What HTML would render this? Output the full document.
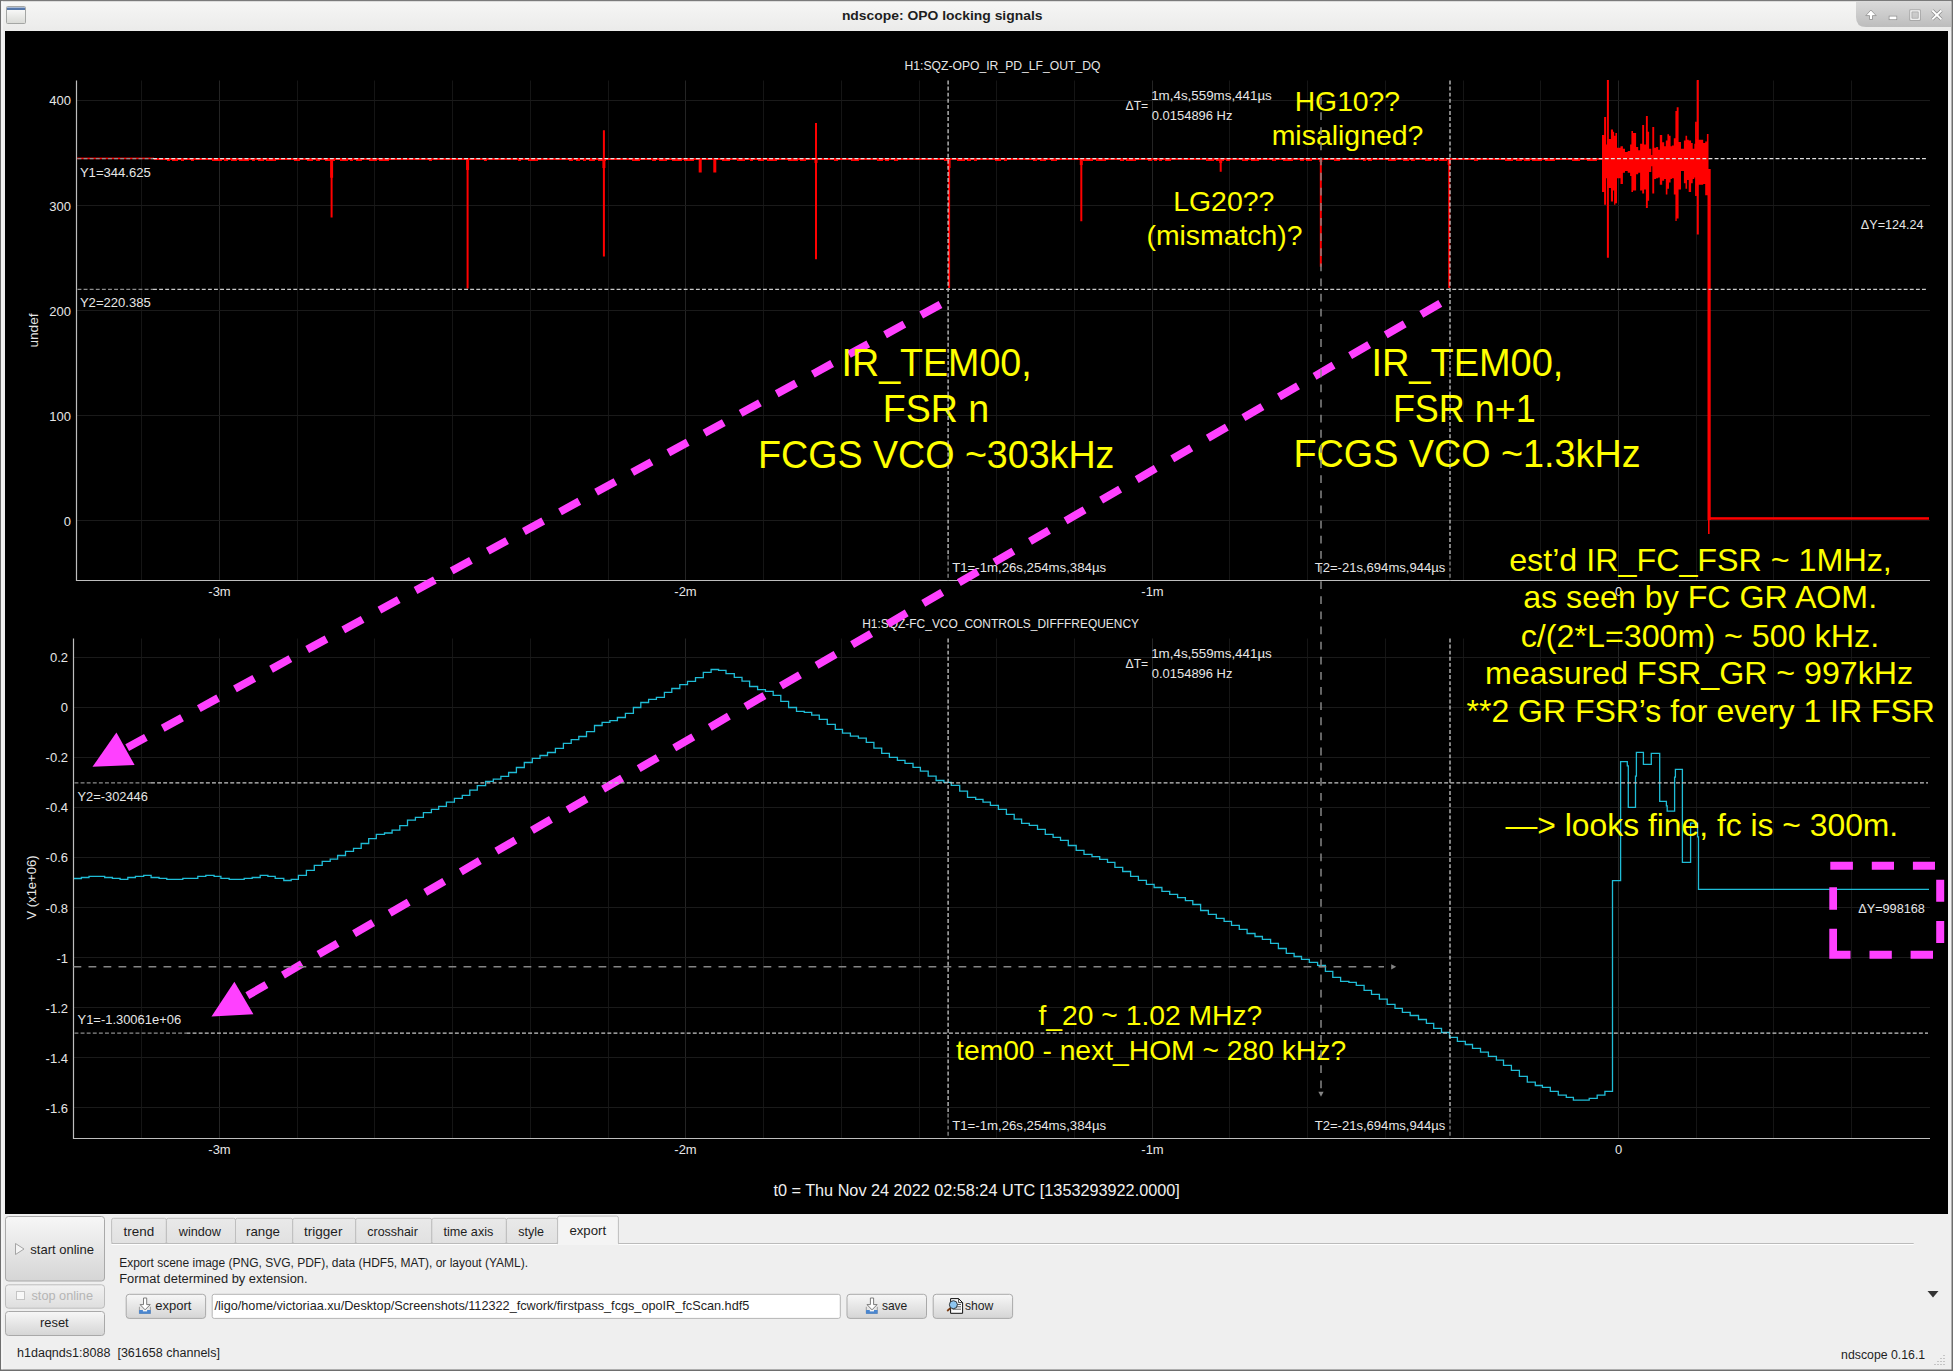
<!DOCTYPE html>
<html><head><meta charset="utf-8"><title>ndscope: OPO locking signals</title>
<style>html,body{margin:0;padding:0;background:#EFEFEF;overflow:hidden;width:1953px;height:1371px;font-family:"Liberation Sans",sans-serif}svg{display:block}</style>
</head><body>
<svg width="1953" height="1371" viewBox="0 0 1953 1371" font-family="&quot;Liberation Sans&quot;, sans-serif"><rect x="0" y="0" width="1953" height="1371" fill="#EFEFEF"/>
<defs><linearGradient id="tb" x1="0" y1="0" x2="0" y2="1"><stop offset="0" stop-color="#F6F6F5"/><stop offset="1" stop-color="#EBEBEA"/></linearGradient><linearGradient id="wb" x1="0" y1="0" x2="0" y2="1"><stop offset="0" stop-color="#DADADA"/><stop offset="1" stop-color="#BDBDBD"/></linearGradient><linearGradient id="btn" x1="0" y1="0" x2="0" y2="1"><stop offset="0" stop-color="#F7F7F7"/><stop offset="1" stop-color="#D5D5D5"/></linearGradient><linearGradient id="btnd" x1="0" y1="0" x2="0" y2="1"><stop offset="0" stop-color="#F2F2F2"/><stop offset="1" stop-color="#DEDEDE"/></linearGradient><linearGradient id="tab" x1="0" y1="0" x2="0" y2="1"><stop offset="0" stop-color="#E9E9E9"/><stop offset="1" stop-color="#E1E1E1"/></linearGradient></defs>
<rect x="0" y="0" width="1953" height="31" fill="url(#tb)"/>
<rect x="0" y="0" width="1953" height="1.2" fill="#7A7A7A"/>
<rect x="0" y="0" width="1.2" height="1371" fill="#6E6E6E"/>
<rect x="1951.5" y="0" width="1.5" height="1371" fill="#6E6E6E"/>
<rect x="0" y="1369.5" width="1953" height="1.5" fill="#6E6E6E"/>
<rect x="1.2" y="1.2" width="1.5" height="1368" fill="#FAFAFA"/>
<linearGradient id="wi" x1="0" y1="0" x2="0" y2="1"><stop offset="0" stop-color="#FFFFFF"/><stop offset="1" stop-color="#D9DAD6"/></linearGradient>
<rect x="6.5" y="6.5" width="19" height="17" rx="1" fill="url(#wi)" stroke="#A4A6A4" stroke-width="1"/>
<rect x="7" y="7.5" width="18" height="2.5" fill="#5577AA"/>
<text x="841.9" y="20.3" font-size="13" fill="#1E1E1E" textLength="200.6" lengthAdjust="spacingAndGlyphs" font-weight="bold"  xml:space="preserve">ndscope: OPO locking signals</text>
<path d="M1856 1 H1949 Q1951 1 1951 4 V27 H1866 Q1856 27 1856 17 Z" fill="url(#wb)"/>
<path d="M1870.9 10 L1876.2 15.6 H1872.5 V19.5 H1869.5 V15.6 H1865.8 Z" fill="#FFFFFF" stroke="#8E8E8E" stroke-width="0.8" stroke-linejoin="round"/>
<rect x="1889.1" y="16.1" width="7.7" height="3.6" fill="#FFFFFF" stroke="#8E8E8E" stroke-width="0.7"/>
<rect x="1910.9" y="10.9" width="8.3" height="8.3" fill="none" stroke="#8E8E8E" stroke-width="2.6"/>
<rect x="1910.9" y="10.9" width="8.3" height="8.3" fill="none" stroke="#FFFFFF" stroke-width="1.3"/>
<path d="M1932.3 10.5 L1941.4 19.4 M1941.4 10.5 L1932.3 19.4" stroke="#8E8E8E" stroke-width="3.4" stroke-linecap="butt"/>
<path d="M1932.3 10.5 L1941.4 19.4 M1941.4 10.5 L1932.3 19.4" stroke="#FFFFFF" stroke-width="1.9" stroke-linecap="butt"/>
<rect x="5" y="31" width="1943" height="1183" fill="#000000"/>
<path d="M1851.5 80.5V580.5M1773.5 80.5V580.5M1696.5 80.5V580.5M1540.5 80.5V580.5M1463.5 80.5V580.5M1385.5 80.5V580.5M1307.5 80.5V580.5M1229.5 80.5V580.5M1074.5 80.5V580.5M996.5 80.5V580.5M919.5 80.5V580.5M841.5 80.5V580.5M763.5 80.5V580.5M608.5 80.5V580.5M530.5 80.5V580.5M452.5 80.5V580.5M374.5 80.5V580.5M297.5 80.5V580.5M141.5 80.5V580.5" stroke="#151515" stroke-width="1" fill="none"/>
<path d="M1618.5 80.5V580.5M1152.5 80.5V580.5M685.5 80.5V580.5M219.5 80.5V580.5" stroke="#242424" stroke-width="1" fill="none"/>
<path d="M76.5 100.5H1930M76.5 205.5H1930M76.5 310.5H1930M76.5 415.5H1930M76.5 520.5H1930" stroke="#1A1A1A" stroke-width="1" fill="none"/>
<path d="M1851.5 638.5V1138.5M1773.5 638.5V1138.5M1696.5 638.5V1138.5M1540.5 638.5V1138.5M1463.5 638.5V1138.5M1385.5 638.5V1138.5M1307.5 638.5V1138.5M1229.5 638.5V1138.5M1074.5 638.5V1138.5M996.5 638.5V1138.5M919.5 638.5V1138.5M841.5 638.5V1138.5M763.5 638.5V1138.5M608.5 638.5V1138.5M530.5 638.5V1138.5M452.5 638.5V1138.5M374.5 638.5V1138.5M297.5 638.5V1138.5M141.5 638.5V1138.5" stroke="#151515" stroke-width="1" fill="none"/>
<path d="M1618.5 638.5V1138.5M1152.5 638.5V1138.5M685.5 638.5V1138.5M219.5 638.5V1138.5" stroke="#242424" stroke-width="1" fill="none"/>
<path d="M73.5 657.5H1930M73.5 707.5H1930M73.5 757.5H1930M73.5 807.5H1930M73.5 857.5H1930M73.5 907.5H1930M73.5 957.5H1930M73.5 1007.5H1930M73.5 1057.5H1930M73.5 1107.5H1930" stroke="#1A1A1A" stroke-width="1" fill="none"/>
<rect x="77" y="157.6" width="77" height="1.6" fill="#FF0000"/>
<rect x="154" y="158" width="1448" height="2" fill="#FF0000"/>
<path d="M167 160h3v1h-3zM172 160h6v1h-6zM181 160h3v1h-3zM191 160h3v1h-3zM212 160h10v1h-10zM224 160h4v1h-4zM231 160h6v1h-6zM239 160h10v1h-10zM252 160h3v1h-3zM258 160h6v1h-6zM266 160h10v1h-10zM294 160h6v1h-6zM307 160h6v1h-6zM316 160h4v1h-4zM325 160h10v1h-10zM340 160h8v1h-8zM350 160h3v1h-3zM356 160h6v1h-6zM369 160h8v1h-8zM379 160h10v1h-10zM429 160h3v1h-3zM484 160h3v1h-3zM518 160h3v1h-3zM528 160h10v1h-10zM569 160h4v1h-4zM576 160h4v1h-4zM583 160h3v1h-3zM589 160h6v1h-6zM598 160h8v1h-8zM632 160h8v1h-8zM652 160h4v1h-4zM659 160h8v1h-8zM672 160h10v1h-10zM684 160h10v1h-10zM722 160h8v1h-8zM737 160h8v1h-8zM750 160h3v1h-3zM758 160h6v1h-6zM767 160h10v1h-10zM788 160h10v1h-10zM800 160h6v1h-6zM834 160h4v1h-4zM851 160h8v1h-8zM877 160h6v1h-6zM885 160h4v1h-4zM894 160h4v1h-4zM944 160h6v1h-6zM957 160h8v1h-8zM967 160h4v1h-4zM974 160h3v1h-3zM995 160h6v1h-6zM1004 160h3v1h-3zM1033 160h4v1h-4zM1040 160h6v1h-6zM1051 160h6v1h-6zM1083 160h10v1h-10zM1096 160h10v1h-10zM1120 160h4v1h-4zM1126 160h10v1h-10zM1148 160h4v1h-4zM1154 160h3v1h-3zM1159 160h3v1h-3zM1165 160h6v1h-6zM1206 160h8v1h-8zM1216 160h8v1h-8zM1226 160h4v1h-4zM1242 160h6v1h-6zM1251 160h8v1h-8zM1272 160h4v1h-4zM1283 160h10v1h-10zM1300 160h4v1h-4zM1306 160h6v1h-6zM1334 160h6v1h-6zM1363 160h3v1h-3zM1368 160h4v1h-4zM1388 160h8v1h-8zM1403 160h6v1h-6zM1411 160h4v1h-4zM1425 160h6v1h-6zM1434 160h3v1h-3zM1439 160h8v1h-8zM1474 160h4v1h-4zM1505 160h8v1h-8zM1516 160h6v1h-6zM1524 160h6v1h-6zM1532 160h10v1h-10zM1545 160h10v1h-10zM1572 160h8v1h-8zM1587 160h10v1h-10z" fill="#FF0000"/>
<path d="M330.6 158H332.6V217.5H330.6ZM330.1 158H333.1V177.8H330.1ZM466.6 158H468.6V288.4H466.6ZM466.1 158H469.1V170H466.1ZM602.9 130.3H604.9V256.5H602.9ZM602.4 158H605.4V168H602.4ZM699.2 158H701.2V172.6H699.2ZM698.7 158H701.7V172.6H698.7ZM713.8 158H715.8V172.6H713.8ZM713.3 158H716.3V172.6H713.3ZM815 123H817V259.2H815ZM814.5 158H817.5V163H814.5ZM948.1 158H950.1V288H948.1ZM947.6 158H950.6V168H947.6ZM1080.3 158H1082.3V221.2H1080.3ZM1079.8 158H1082.8V165H1079.8ZM1219.7 158H1221.7V171.7H1219.7ZM1219.2 158H1222.2V163H1219.2ZM1319.8 158H1321.8V266.7H1319.8ZM1319.3 158H1322.3V162H1319.3ZM1448.2 158H1450.2V287.9H1448.2ZM1447.7 158H1450.7V165H1447.7Z" fill="#FF0000"/>
<path d="M1602 135H1604.1V192H1602ZM1604.1 117H1606.1V204.8H1604.1ZM1606.1 144.6H1606.9V178.3H1606.1ZM1606.9 80H1608.9V257.8H1606.9ZM1606.9 139H1608.9V185.6H1606.9ZM1608.9 139H1610.9V188H1608.9ZM1610.9 129.4H1613V201.6H1610.9ZM1613 131.8H1614.1V190.4H1613ZM1614.1 135.8H1615.4V204.8H1614.1ZM1615.4 133.1H1617V203.2H1615.4ZM1617 147.8H1620.5V178.3H1617ZM1620.5 146.2H1622.9V184H1620.5ZM1622.9 148.7H1625V172.7H1622.9ZM1625 151.9H1627.7V171.1H1625ZM1627.7 151.1H1630.1V172.7H1627.7ZM1630.1 144.6H1631.4V175.9H1630.1ZM1631.4 131H1633V192H1631.4ZM1633 133.1H1636.1V190.4H1633ZM1636.1 147H1638.2V174.3H1636.1ZM1638.2 150.3H1640.1V172.7H1638.2ZM1640.1 143.8H1642.2V190.4H1640.1ZM1642.2 125.1H1644.1V193.6H1642.2ZM1644.1 144.6H1645.9V189.6H1644.1ZM1645.9 116.1H1647.8V208H1645.9ZM1647.8 131.8H1649.1V200.8H1647.8ZM1649.1 148.7H1651.3V171.9H1649.1ZM1651.3 155.1H1652.3V166.3H1651.3ZM1652.3 127H1654.2V193.6H1652.3ZM1654.2 147.8H1656.1V179.1H1654.2ZM1656.1 147H1658.2V178.3H1656.1ZM1658.2 149.8H1659.8V177.5H1658.2ZM1659.8 135H1662.2V184.8H1659.8ZM1662.2 142.2H1664.2V180.8H1662.2ZM1664.2 146.2H1665.8V179.1H1664.2ZM1665.8 140.6H1667.4V194.4H1665.8ZM1667.4 134.2H1669V188.8H1667.4ZM1669 135.8H1670.6V182.4H1669ZM1670.6 146.2H1671.9V179.1H1670.6ZM1671.9 145.4H1673.8V178.3H1671.9ZM1673.8 138.2H1675.4V194.4H1673.8ZM1675.4 110.9H1676.7V220.9H1675.4ZM1676.7 107.2H1678.6V218.5H1676.7ZM1678.6 141.9H1681V189.6H1678.6ZM1681 148.7H1683.9V171.1H1681ZM1683.9 140.6H1685.5V183.2H1683.9ZM1685.5 135.8H1687.1V188.8H1685.5ZM1687.1 139.8H1688.7V180H1687.1ZM1688.7 140.6H1691.1V192H1688.7ZM1691.1 143H1692.7V183.2H1691.1ZM1692.7 148.7H1694.3V179.1H1692.7ZM1694.3 143.8H1695.1V177.5H1694.3ZM1695.1 121.8H1696.7V196H1695.1ZM1696.8 80H1698.8V234.5H1696.8ZM1696.7 139H1698.8V185.6H1696.7ZM1698.8 139.8H1703.2V184.8H1698.8ZM1703.2 143H1705.2V184H1703.2ZM1705.2 141.4H1706.9V195.2H1705.2ZM1706.9 133.9H1708.5V195.2H1706.9Z" fill="#FF0000"/>
<rect x="1707.5" y="169" width="3.2" height="351" fill="#FF0000"/>
<rect x="1708" y="518" width="1.6" height="16" fill="#FF0000"/>
<rect x="1709" y="517.2" width="220" height="2.5" fill="#FF0000"/>
<path d="M73.5 878.5H81.4V877.5H89V876.4H104.7V877.5H112.4V878.4H120.1V879.4H127.8V877.5H135.4V876.4H143.7V875.4H151.1V877.5H159.1V878.4H166.8V879.4H182.8V878.4H197.8V876.4H205.8V875.4H214.1V876.4H220.9V878.4H229.2V879.4H244.2V878.4H252.2V877.5H260.2V875.4H267.9V876.4H275.2V878.4H283.8V880.5H291.2V879.4H298.4V875.4H306.4V870.3H314.3V865.3H322.2V861.4H330.2V859.1H337.6V855.5H345.5V851.4H353.5V848.3H361.2V843.5H368.7V838.6H376.3V834.3H384.5V833H392.1V830.2H399.8V825.6H407.5V820.2H415.4V817.4H423.4V812.6H431.4V809.4H438.7V806.4H446.4V802.2H454.4V798.4H462.3V795.4H469.8V790.2H477.3V785.6H485.6V781.4H493.3V779.2H500.9V776.4H508.6V772.5H516.4V767.5H524.3V762.5H532.3V758.3H540V755.5H547.5V752.5H555.4V748.4H563.4V743.3H571.2V739.6H578.8V736.5H586.5V731.6H594.5V725.5H602.1V722.4H609.9V720.6H617.4V717.5H625.4V713.3H633.4V707.5H640.8V702.5H648.6V699.4H656.4V697.4H664.4V692.4H671.8V688.5H679.8V684.6H687.5V681.4H695.5V677.6H703.3V672.4H711.1V669.5H718.6V670.3H726V673.6H734.3V677.3H742V681.1H749.6V686.5H757.6V689.6H765.4V691.4H773.2V695.3H780.8V701.4H788.6V707.5H796.5V711.3H804.3V712.3H811.7V715.2H819.3V719.4H827.3V724.4H835.3V729.3H842.5V733.2H850.4V736.2H858.4V738.2H866.3V742.4H873.9V748.1H881.7V753.3H889.4V757.3H897.4V760.4H905V763.4H913V767.3H920.4V771.2H928.2V776.2H936.1V780.5H943.9V782.3H951.3V785.4H959.7V791.2H967.5V797.4H975.7V799.3H983V802.2H990.4V805.3H998.4V809.3H1006.4V814.3H1014.2V819.2H1021.6V823.4H1029.3V825.3H1037.5V829.3H1045.3V834.3H1053.1V837.3H1060.5V840.4H1068.3V845.5H1076.2V850.4H1084V854.3H1092V856.7H1099.7V859.4H1107.5V862.4H1114.9V867.4H1122.7V871.5H1130.6V876.4H1138.4V880.3H1146.4V884.4H1154.1V887.5H1161.9V891.3H1169.7V894.4H1177.6V897.6H1185.4V900.6H1192.8V904.5H1200.6V910.5H1208.4V914.4H1216.3V918.3H1224.1V921.4H1231.5V925.4H1239.3V929.4H1247.1V933.5H1255V936.5H1262.4V939.3H1270.6V943.4H1278.4V948.5H1286.3V953.3H1294.1V956.5H1301.5V959.4H1309.3V962.3H1317.6V965.4H1325.4V971.4H1332.8V977.4H1340.6V981.4H1348.9V982.4H1356.3V985.4H1364.1V990.4H1371.5V994.3H1379.4V999.2H1387.2V1004.4H1395V1008.4H1402.4V1012.4H1410.2V1015.5H1418.5V1019.5H1426.4V1023.4H1433.7V1028.4H1441.5V1032.5H1449.5V1037.3H1457.4V1041.4H1465.3V1044.5H1472.5V1048.4H1480.5V1052.2H1488.4V1056.3H1496.4V1060.2H1503.5V1065.3H1511.4V1070.4H1519.4V1076.4H1527.3V1082.2H1535.3V1085.5H1542.4V1087.3H1550.3V1091.4H1558.3V1095.2H1566.3V1097.3H1573.4V1100.1H1589.2V1098.3H1597.2V1095.2H1604.9V1091.4H1612.5V880.6H1620.6V761.6H1627.3V765.9H1628.3V807.3H1635.5V776.2H1636.4V752.3H1643.4V764.3H1651.3V753.4H1659.7V801.3H1666.4V805.9H1667.2V811.2H1674.6V777.1H1675.4V769.4H1682.4V862.3H1690.6V823.2H1697.6V836.9H1698.5V889.3H1929" fill="none" stroke="#1FBCD6" stroke-width="1.3"/>
<path d="M76.5 80.5V580.5H1930" stroke="#BEBEBE" stroke-width="1.2" fill="none"/>
<path d="M73.5 638.5V1138.5H1930" stroke="#BEBEBE" stroke-width="1.2" fill="none"/>
<text x="904.5" y="70.1" font-size="13" fill="#E6E6E6" textLength="195.9" lengthAdjust="spacingAndGlyphs"  xml:space="preserve">H1:SQZ-OPO_IR_PD_LF_OUT_DQ</text>
<text x="862.2" y="627.6" font-size="13" fill="#E6E6E6" textLength="276.8" lengthAdjust="spacingAndGlyphs"  xml:space="preserve">H1:SQZ-FC_VCO_CONTROLS_DIFFFREQUENCY</text>
<text x="71" y="105" font-size="13" fill="#E6E6E6" text-anchor="end"  xml:space="preserve">400</text>
<text x="71" y="210.5" font-size="13" fill="#E6E6E6" text-anchor="end"  xml:space="preserve">300</text>
<text x="71" y="315.5" font-size="13" fill="#E6E6E6" text-anchor="end"  xml:space="preserve">200</text>
<text x="71" y="420.5" font-size="13" fill="#E6E6E6" text-anchor="end"  xml:space="preserve">100</text>
<text x="71" y="525.5" font-size="13" fill="#E6E6E6" text-anchor="end"  xml:space="preserve">0</text>
<text x="68" y="662.3" font-size="13" fill="#E6E6E6" text-anchor="end"  xml:space="preserve">0.2</text>
<text x="68" y="712.2" font-size="13" fill="#E6E6E6" text-anchor="end"  xml:space="preserve">0</text>
<text x="68" y="762.1" font-size="13" fill="#E6E6E6" text-anchor="end"  xml:space="preserve">-0.2</text>
<text x="68" y="812.2" font-size="13" fill="#E6E6E6" text-anchor="end"  xml:space="preserve">-0.4</text>
<text x="68" y="862.2" font-size="13" fill="#E6E6E6" text-anchor="end"  xml:space="preserve">-0.6</text>
<text x="68" y="912.5" font-size="13" fill="#E6E6E6" text-anchor="end"  xml:space="preserve">-0.8</text>
<text x="68" y="962.5" font-size="13" fill="#E6E6E6" text-anchor="end"  xml:space="preserve">-1</text>
<text x="68" y="1012.8" font-size="13" fill="#E6E6E6" text-anchor="end"  xml:space="preserve">-1.2</text>
<text x="68" y="1062.8" font-size="13" fill="#E6E6E6" text-anchor="end"  xml:space="preserve">-1.4</text>
<text x="68" y="1112.6" font-size="13" fill="#E6E6E6" text-anchor="end"  xml:space="preserve">-1.6</text>
<text x="219.5" y="596" font-size="13" fill="#E6E6E6" text-anchor="middle"  xml:space="preserve">-3m</text>
<text x="219.5" y="1154" font-size="13" fill="#E6E6E6" text-anchor="middle"  xml:space="preserve">-3m</text>
<text x="685.5" y="596" font-size="13" fill="#E6E6E6" text-anchor="middle"  xml:space="preserve">-2m</text>
<text x="685.5" y="1154" font-size="13" fill="#E6E6E6" text-anchor="middle"  xml:space="preserve">-2m</text>
<text x="1152.5" y="596" font-size="13" fill="#E6E6E6" text-anchor="middle"  xml:space="preserve">-1m</text>
<text x="1152.5" y="1154" font-size="13" fill="#E6E6E6" text-anchor="middle"  xml:space="preserve">-1m</text>
<text x="1618.5" y="596" font-size="13" fill="#E6E6E6" text-anchor="middle"  xml:space="preserve">0</text>
<text x="1618.5" y="1154" font-size="13" fill="#E6E6E6" text-anchor="middle"  xml:space="preserve">0</text>
<text transform="translate(37.5 330.5) rotate(-90)" x="0" y="0" font-size="13" fill="#E6E6E6" text-anchor="middle" textLength="34" lengthAdjust="spacingAndGlyphs">undef</text>
<text transform="translate(36.3 887.5) rotate(-90)" x="0" y="0" font-size="13" fill="#E6E6E6" text-anchor="middle">V (x1e+06)</text>
<text x="79.9" y="177" font-size="13" fill="#E6E6E6" textLength="70.9" lengthAdjust="spacingAndGlyphs"  xml:space="preserve">Y1=344.625</text>
<text x="79.9" y="306.8" font-size="13" fill="#E6E6E6" textLength="70.9" lengthAdjust="spacingAndGlyphs"  xml:space="preserve">Y2=220.385</text>
<text x="77.5" y="800.5" font-size="13" fill="#E6E6E6" textLength="70.4" lengthAdjust="spacingAndGlyphs"  xml:space="preserve">Y2=-302446</text>
<text x="77.5" y="1024.4" font-size="13" fill="#E6E6E6" textLength="103.6" lengthAdjust="spacingAndGlyphs"  xml:space="preserve">Y1=-1.30061e+06</text>
<text x="1125.5" y="109.8" font-size="13" fill="#E6E6E6" textLength="22.7" lengthAdjust="spacingAndGlyphs"  xml:space="preserve">ΔT=</text>
<text x="1151.2" y="99.8" font-size="13" fill="#E6E6E6" textLength="120.6" lengthAdjust="spacingAndGlyphs"  xml:space="preserve">1m,4s,559ms,441µs</text>
<text x="1151.8" y="119.6" font-size="13" fill="#E6E6E6" textLength="80.6" lengthAdjust="spacingAndGlyphs"  xml:space="preserve">0.0154896 Hz</text>
<text x="1125.5" y="667.5" font-size="13" fill="#E6E6E6" textLength="22.7" lengthAdjust="spacingAndGlyphs"  xml:space="preserve">ΔT=</text>
<text x="1151.2" y="658.3" font-size="13" fill="#E6E6E6" textLength="120.6" lengthAdjust="spacingAndGlyphs"  xml:space="preserve">1m,4s,559ms,441µs</text>
<text x="1151.8" y="678.2" font-size="13" fill="#E6E6E6" textLength="80.6" lengthAdjust="spacingAndGlyphs"  xml:space="preserve">0.0154896 Hz</text>
<text x="1860.8" y="228.7" font-size="13" fill="#E6E6E6" textLength="62.8" lengthAdjust="spacingAndGlyphs"  xml:space="preserve">ΔY=124.24</text>
<text x="1858.2" y="912.7" font-size="13" fill="#E6E6E6" textLength="66.7" lengthAdjust="spacingAndGlyphs"  xml:space="preserve">ΔY=998168</text>
<text x="952.2" y="572.3" font-size="13" fill="#E6E6E6" textLength="153.9" lengthAdjust="spacingAndGlyphs"  xml:space="preserve">T1=-1m,26s,254ms,384µs</text>
<text x="1314.7" y="572.3" font-size="13" fill="#E6E6E6" textLength="130.6" lengthAdjust="spacingAndGlyphs"  xml:space="preserve">T2=-21s,694ms,944µs</text>
<text x="952.2" y="1130.1" font-size="13" fill="#E6E6E6" textLength="153.9" lengthAdjust="spacingAndGlyphs"  xml:space="preserve">T1=-1m,26s,254ms,384µs</text>
<text x="1314.7" y="1130.1" font-size="13" fill="#E6E6E6" textLength="130.6" lengthAdjust="spacingAndGlyphs"  xml:space="preserve">T2=-21s,694ms,944µs</text>
<text x="773.4" y="1195.8" font-size="16" fill="#F0F0F0" textLength="406.4" lengthAdjust="spacingAndGlyphs"  xml:space="preserve">t0 = Thu Nov 24 2022 02:58:24 UTC [1353293922.0000]</text>
<path d="M940.5 304.5L127.2 747.6" stroke="#FF40FF" stroke-width="7.8" stroke-dasharray="22 19.13" fill="none"/>
<path d="M116.4 732.4L92.5 766.8L134.6 765Z" fill="#FF40FF"/>
<path d="M1440.3 303.3L247.3 995.7" stroke="#FF40FF" stroke-width="7.8" stroke-dasharray="22 19.13" fill="none"/>
<path d="M234.4 981.8L211.5 1016.6L253.4 1014.2Z" fill="#FF40FF"/>
<path d="M1830.3 861.7H1852.9V869.8H1830.3ZM1871.8 861.7H1894V869.8H1871.8ZM1912.9 861.7H1935V869.8H1912.9ZM1829.3 950.8H1850.5V958.7H1829.3ZM1869.5 950.8H1891.8V958.7H1869.5ZM1910.6 950.8H1933V958.7H1910.6ZM1936.2 879.8H1944.2V901.8H1936.2ZM1936.2 921H1944.2V943H1936.2ZM1829.3 887.2H1837V909.8H1829.3ZM1829.3 928.7H1837V958.7H1829.3Z" fill="#FF40FF"/>
<text x="841.6" y="376.2" font-size="38" fill="#FFFF00" textLength="190.1" lengthAdjust="spacingAndGlyphs"  xml:space="preserve">IR_TEM00,</text>
<text x="882.8" y="422.3" font-size="38" fill="#FFFF00" textLength="106.4" lengthAdjust="spacingAndGlyphs"  xml:space="preserve">FSR n</text>
<text x="758" y="467.8" font-size="38" fill="#FFFF00" textLength="356.4" lengthAdjust="spacingAndGlyphs"  xml:space="preserve">FCGS VCO ~303kHz</text>
<text x="1371.4" y="376.1" font-size="38" fill="#FFFF00" textLength="192" lengthAdjust="spacingAndGlyphs"  xml:space="preserve">IR_TEM00,</text>
<text x="1392.9" y="421.8" font-size="38" fill="#FFFF00" textLength="142.9" lengthAdjust="spacingAndGlyphs"  xml:space="preserve">FSR n+1</text>
<text x="1293.5" y="467.2" font-size="38" fill="#FFFF00" textLength="347" lengthAdjust="spacingAndGlyphs"  xml:space="preserve">FCGS VCO ~1.3kHz</text>
<text x="1294.7" y="111" font-size="28" fill="#FFFF00" textLength="105.4" lengthAdjust="spacingAndGlyphs"  xml:space="preserve">HG10??</text>
<text x="1271.7" y="145.1" font-size="28" fill="#FFFF00" textLength="151.7" lengthAdjust="spacingAndGlyphs"  xml:space="preserve">misaligned?</text>
<text x="1173.2" y="211" font-size="28" fill="#FFFF00" textLength="101.2" lengthAdjust="spacingAndGlyphs"  xml:space="preserve">LG20??</text>
<text x="1146.5" y="245.1" font-size="28" fill="#FFFF00" textLength="155.9" lengthAdjust="spacingAndGlyphs"  xml:space="preserve">(mismatch)?</text>
<text x="1509.2" y="570.7" font-size="32" fill="#FFFF00" textLength="382.6" lengthAdjust="spacingAndGlyphs"  xml:space="preserve">est’d IR_FC_FSR ~ 1MHz,</text>
<text x="1523.2" y="608.1" font-size="32" fill="#FFFF00" textLength="353.9" lengthAdjust="spacingAndGlyphs"  xml:space="preserve">as seen by FC GR AOM.</text>
<text x="1520.7" y="646.5" font-size="32" fill="#FFFF00" textLength="358.4" lengthAdjust="spacingAndGlyphs"  xml:space="preserve">c/(2*L=300m) ~ 500 kHz.</text>
<text x="1485.1" y="683.6" font-size="32" fill="#FFFF00" textLength="428" lengthAdjust="spacingAndGlyphs"  xml:space="preserve">measured FSR_GR ~ 997kHz</text>
<text x="1466.6" y="722" font-size="32" fill="#FFFF00" textLength="468.2" lengthAdjust="spacingAndGlyphs"  xml:space="preserve">**2 GR FSR’s for every 1 IR FSR</text>
<text x="1505.5" y="836.2" font-size="32" fill="#FFFF00" textLength="392.7" lengthAdjust="spacingAndGlyphs"  xml:space="preserve">—&gt; looks fine, fc is ~ 300m.</text>
<text x="1038.5" y="1024.9" font-size="28" fill="#FFFF00" textLength="223.8" lengthAdjust="spacingAndGlyphs"  xml:space="preserve">f_20 ~ 1.02 MHz?</text>
<text x="956.1" y="1059.5" font-size="28" fill="#FFFF00" textLength="390" lengthAdjust="spacingAndGlyphs"  xml:space="preserve">tem00 - next_HOM ~ 280 kHz?</text>
<path d="M948.1 80.5V555.5" stroke="#C8C8C8" stroke-width="1.3" stroke-dasharray="3.9 2.2" fill="none"/>
<path d="M948.1 555.5V580.5" stroke="#8C8C8C" stroke-width="1.3" stroke-dasharray="3.9 2.2" fill="none"/>
<path d="M948.1 638.5V1113.5" stroke="#C8C8C8" stroke-width="1.3" stroke-dasharray="3.9 2.2" fill="none"/>
<path d="M948.1 1113.5V1138.5" stroke="#8C8C8C" stroke-width="1.3" stroke-dasharray="3.9 2.2" fill="none"/>
<path d="M1450 80.5V555.5" stroke="#C8C8C8" stroke-width="1.3" stroke-dasharray="3.9 2.2" fill="none"/>
<path d="M1450 555.5V580.5" stroke="#8C8C8C" stroke-width="1.3" stroke-dasharray="3.9 2.2" fill="none"/>
<path d="M1450 638.5V1113.5" stroke="#C8C8C8" stroke-width="1.3" stroke-dasharray="3.9 2.2" fill="none"/>
<path d="M1450 1113.5V1138.5" stroke="#8C8C8C" stroke-width="1.3" stroke-dasharray="3.9 2.2" fill="none"/>
<path d="M77.5 158.6H153" stroke="#8C8C8C" stroke-width="1.1" stroke-dasharray="3.9 2.2" fill="none"/>
<path d="M153 158.6H1928" stroke="#E0E0E0" stroke-width="1.1" stroke-dasharray="3.9 2.2" fill="none"/>
<path d="M77.5 289.3H153" stroke="#8C8C8C" stroke-width="1.3" stroke-dasharray="3.9 2.2" fill="none"/>
<path d="M153 289.3H1928" stroke="#C8C8C8" stroke-width="1.3" stroke-dasharray="3.9 2.2" fill="none"/>
<path d="M74.5 782.9H151" stroke="#8C8C8C" stroke-width="1.3" stroke-dasharray="3.9 2.2" fill="none"/>
<path d="M151 782.9H1928" stroke="#C8C8C8" stroke-width="1.3" stroke-dasharray="3.9 2.2" fill="none"/>
<path d="M74.5 1033.2H186.5" stroke="#8C8C8C" stroke-width="1.3" stroke-dasharray="3.9 2.2" fill="none"/>
<path d="M186.5 1033.2H1928" stroke="#C8C8C8" stroke-width="1.3" stroke-dasharray="3.9 2.2" fill="none"/>
<path d="M1321 97V1089" stroke="#858585" stroke-width="1.5" stroke-dasharray="7.8 7.33" fill="none"/>
<path d="M73.5 966.8H1384" stroke="#858585" stroke-width="1.5" stroke-dasharray="7.8 7.2" fill="none"/>
<path d="M1318.4 1091.8 H1323.6 L1321 1096.8 Z" fill="#858585"/>
<path d="M1391.2 964.2 V969.4 L1396.2 966.8 Z" fill="#858585"/>
<rect x="5.5" y="1216.5" width="99" height="64.5" rx="3" fill="url(#btn)" stroke="#A9A9A9"/>
<path d="M15.5 1243.5 L24 1249 L15.5 1254.5 Z" fill="#F4F4F4" stroke="#9C9C9C" stroke-width="0.9"/>
<text x="30.3" y="1254.2" font-size="13" fill="#1E1E1E" textLength="63.7" lengthAdjust="spacingAndGlyphs"  xml:space="preserve">start online</text>
<rect x="5.5" y="1284.8" width="99" height="23.4" rx="3" fill="url(#btnd)" stroke="#BDBDBD"/>
<rect x="16.5" y="1291.5" width="8" height="8" fill="#F8F8F8" stroke="#C4C4C4"/>
<text x="31.5" y="1300" font-size="13" fill="#B5B5B5" textLength="61.5" lengthAdjust="spacingAndGlyphs"  xml:space="preserve">stop online</text>
<rect x="5.5" y="1311.5" width="99" height="24" rx="3" fill="url(#btn)" stroke="#A9A9A9"/>
<text x="40" y="1327.1" font-size="13" fill="#1E1E1E" textLength="28.7" lengthAdjust="spacingAndGlyphs"  xml:space="preserve">reset</text>
<rect x="111.6" y="1218.3" width="54.8" height="25.4" rx="2" fill="url(#tab)" stroke="#BEBEBE"/>
<text x="123.5" y="1236.3" font-size="13" fill="#1E1E1E" textLength="30.6" lengthAdjust="spacingAndGlyphs"  xml:space="preserve">trend</text>
<rect x="166.4" y="1218.3" width="69.1" height="25.4" rx="2" fill="url(#tab)" stroke="#BEBEBE"/>
<text x="178.8" y="1236.3" font-size="13" fill="#1E1E1E" textLength="42.2" lengthAdjust="spacingAndGlyphs"  xml:space="preserve">window</text>
<rect x="235.5" y="1218.3" width="57.2" height="25.4" rx="2" fill="url(#tab)" stroke="#BEBEBE"/>
<text x="246" y="1236.3" font-size="13" fill="#1E1E1E" textLength="34" lengthAdjust="spacingAndGlyphs"  xml:space="preserve">range</text>
<rect x="292.7" y="1218.3" width="63" height="25.4" rx="2" fill="url(#tab)" stroke="#BEBEBE"/>
<text x="304" y="1236.3" font-size="13" fill="#1E1E1E" textLength="38.4" lengthAdjust="spacingAndGlyphs"  xml:space="preserve">trigger</text>
<rect x="355.7" y="1218.3" width="76.1" height="25.4" rx="2" fill="url(#tab)" stroke="#BEBEBE"/>
<text x="367.3" y="1236.3" font-size="13" fill="#1E1E1E" textLength="50.5" lengthAdjust="spacingAndGlyphs"  xml:space="preserve">crosshair</text>
<rect x="431.8" y="1218.3" width="74.6" height="25.4" rx="2" fill="url(#tab)" stroke="#BEBEBE"/>
<text x="443.4" y="1236.3" font-size="13" fill="#1E1E1E" textLength="50" lengthAdjust="spacingAndGlyphs"  xml:space="preserve">time axis</text>
<rect x="506.4" y="1218.3" width="51.2" height="25.4" rx="2" fill="url(#tab)" stroke="#BEBEBE"/>
<text x="518.3" y="1236.3" font-size="13" fill="#1E1E1E" textLength="25.7" lengthAdjust="spacingAndGlyphs"  xml:space="preserve">style</text>
<path d="M111.5 1243.5 H1913.7" stroke="#BBBBBB" stroke-width="1"/>
<path d="M111.5 1244.5 H1913.7" stroke="#FFFFFF" stroke-width="1"/>
<path d="M557.6 1244.2 V1218.1 Q557.6 1216.1 559.6 1216.1 H616.4 Q618.4 1216.1 618.4 1218.1 V1244.2" fill="#F4F4F4" stroke="#BEBEBE"/>
<rect x="558.2" y="1243" width="59.6" height="2" fill="#F4F4F4"/>
<text x="569.4" y="1235.4" font-size="13" fill="#1E1E1E" textLength="36.7" lengthAdjust="spacingAndGlyphs"  xml:space="preserve">export</text>
<text x="119.2" y="1267.2" font-size="12.5" fill="#1E1E1E" textLength="408.9" lengthAdjust="spacingAndGlyphs"  xml:space="preserve">Export scene image (PNG, SVG, PDF), data (HDF5, MAT), or layout (YAML).</text>
<text x="119.2" y="1283.3" font-size="12.5" fill="#1E1E1E" textLength="188.4" lengthAdjust="spacingAndGlyphs"  xml:space="preserve">Format determined by extension.</text>
<rect x="126.2" y="1294.3" width="79.4" height="24.1" rx="3" fill="url(#btn)" stroke="#A9A9A9"/>
<text x="155.3" y="1309.9" font-size="13" fill="#1E1E1E" textLength="36.2" lengthAdjust="spacingAndGlyphs"  xml:space="preserve">export</text>
<path d="M139.4 1306.8 V1313.5 H150.4 V1306.8" fill="#E6E6E6" stroke="#8A8A8A" stroke-width="0.8"/>
<rect x="139.1" y="1309.9" width="11.6" height="3.9" rx="0.5" fill="#4A86CF"/>
<rect x="142.9" y="1309.9" width="4.2" height="1.5" fill="#F4F4F4"/>
<path d="M143.5 1298 H146.7 V1304.6 H150.2 L145.1 1309.8 L140.1 1304.6 H143.5 Z" fill="#FFFFFF" stroke="#6E6E6E" stroke-width="0.9" stroke-linejoin="round"/>
<rect x="212.2" y="1294.3" width="628.1" height="24.1" rx="2" fill="#FFFFFF" stroke="#B5B5B5"/>
<text x="214.5" y="1310" font-size="13" fill="#1E1E1E" textLength="534.8" lengthAdjust="spacingAndGlyphs"  xml:space="preserve">/ligo/home/victoriaa.xu/Desktop/Screenshots/112322_fcwork/firstpass_fcgs_opoIR_fcScan.hdf5</text>
<rect x="847" y="1294.3" width="79.5" height="24.1" rx="3" fill="url(#btn)" stroke="#A9A9A9"/>
<text x="881.9" y="1310" font-size="13" fill="#1E1E1E" textLength="25.4" lengthAdjust="spacingAndGlyphs"  xml:space="preserve">save</text>
<path d="M866.3 1306.8 V1313.5 H877.3 V1306.8" fill="#E6E6E6" stroke="#8A8A8A" stroke-width="0.8"/>
<rect x="866" y="1309.9" width="11.6" height="3.9" rx="0.5" fill="#4A86CF"/>
<rect x="869.8" y="1309.9" width="4.2" height="1.5" fill="#F4F4F4"/>
<path d="M870.4 1298 H873.6 V1304.6 H877.1 L872 1309.8 L867 1304.6 H870.4 Z" fill="#FFFFFF" stroke="#6E6E6E" stroke-width="0.9" stroke-linejoin="round"/>
<rect x="933.2" y="1294.3" width="79.4" height="24.1" rx="3" fill="url(#btn)" stroke="#A9A9A9"/>
<text x="965" y="1310" font-size="13" fill="#1E1E1E" textLength="28.4" lengthAdjust="spacingAndGlyphs"  xml:space="preserve">show</text>
<path d="M950.6 1298.6 H958.6 L962.6 1302.6 V1313.3 H950.6 Z" fill="#FAFAFA" stroke="#111" stroke-width="1"/>
<path d="M958.6 1298.6 V1302.6 H962.6" fill="none" stroke="#111" stroke-width="0.8"/>
<path d="M956.5 1304.5 H961 M957 1306.8 H961 M952.5 1309.2 H961" stroke="#333" stroke-width="0.8"/>
<path d="M950.3 1308.2 L947.2 1311" stroke="#7A3A10" stroke-width="1.8"/>
<circle cx="953.4" cy="1304.7" r="4" fill="#8EC6F0" stroke="#222" stroke-width="0.9"/>
<path d="M1927.5 1291 H1938.5 L1933 1297.5 Z" fill="#333333"/>
<text x="17" y="1357.4" font-size="12.5" fill="#1E1E1E" textLength="202.9" lengthAdjust="spacingAndGlyphs"  xml:space="preserve">h1daqnds1:8088  [361658 channels]</text>
<text x="1841.1" y="1358.9" font-size="12.5" fill="#1E1E1E" textLength="84.1" lengthAdjust="spacingAndGlyphs"  xml:space="preserve">ndscope 0.16.1</text>
<rect x="1943.5" y="1355.0" width="1" height="1" fill="#9A9A9A"/><rect x="1940.5" y="1358.0" width="1" height="1" fill="#9A9A9A"/><rect x="1943.5" y="1358.0" width="1" height="1" fill="#9A9A9A"/><rect x="1937.5" y="1361.0" width="1" height="1" fill="#9A9A9A"/><rect x="1940.5" y="1361.0" width="1" height="1" fill="#9A9A9A"/><rect x="1943.5" y="1361.0" width="1" height="1" fill="#9A9A9A"/><rect x="1934.5" y="1364.0" width="1" height="1" fill="#9A9A9A"/><rect x="1937.5" y="1364.0" width="1" height="1" fill="#9A9A9A"/><rect x="1940.5" y="1364.0" width="1" height="1" fill="#9A9A9A"/><rect x="1943.5" y="1364.0" width="1" height="1" fill="#9A9A9A"/></svg>
</body></html>
